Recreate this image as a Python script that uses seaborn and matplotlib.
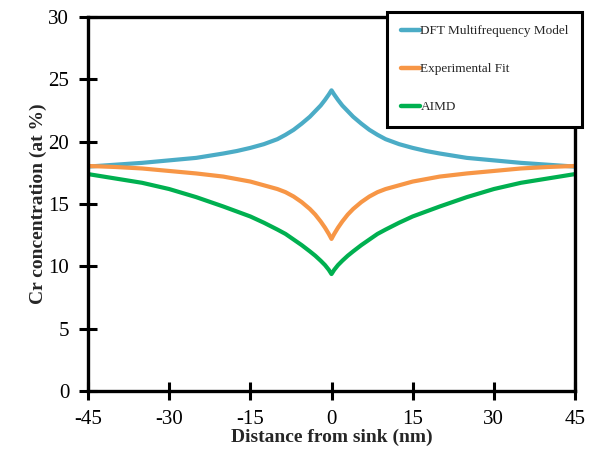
import numpy as np
import pandas as pd
import matplotlib
matplotlib.use("Agg")
import matplotlib.pyplot as plt
import seaborn as sns
from matplotlib.lines import Line2D

# Data (profile is symmetric about the sink)
distance = [-45, -40, -35, -30, -25, -20, -17.5, -15, -12.5, -10, -8.5, -7, -5.5, -4, -3, -2, -1.2, -0.5, 0,
            0.5, 1.2, 2, 3, 4, 5.5, 7, 8.5, 10, 12.5, 15, 17.5, 20, 25, 30, 35, 40, 45]
dft_model = [18.0, 18.15, 18.3, 18.5, 18.7, 19.05, 19.25, 19.5, 19.8, 20.2, 20.55, 20.95, 21.45, 22.0, 22.45,
             22.9, 23.35, 23.78, 24.12,
             23.78, 23.35, 22.9, 22.45, 22.0, 21.45, 20.95, 20.55, 20.2, 19.8, 19.5, 19.25, 19.05, 18.7,
             18.5, 18.3, 18.15, 18.0]
exp_fit = [18.05, 17.97, 17.85, 17.65, 17.45, 17.2, 17.0, 16.8, 16.5, 16.2, 15.95, 15.6, 15.15, 14.6, 14.15,
           13.6, 13.1, 12.6, 12.2,
           12.6, 13.1, 13.6, 14.15, 14.6, 15.15, 15.6, 15.95, 16.2, 16.5, 16.8, 17.0, 17.2, 17.45,
           17.65, 17.85, 17.97, 18.05]
aimd = [17.4, 17.05, 16.7, 16.2, 15.55, 14.8, 14.4, 14.0, 13.5, 12.95, 12.6, 12.15, 11.7, 11.2, 10.85,
        10.45, 10.1, 9.72, 9.38,
        9.72, 10.1, 10.45, 10.85, 11.2, 11.7, 12.15, 12.6, 12.95, 13.5, 14.0, 14.4, 14.8, 15.55,
        16.2, 16.7, 17.05, 17.4]

series_names = ["DFT Multifrequency Model", "Experimental Fit", "AIMD"]
series_colors = ["#4BACC6", "#F79646", "#00B050"]
x_ticks = [-45, -30, -15, 0, 15, 30, 45]
y_ticks = [0, 5, 10, 15, 20, 25, 30]

df = pd.concat([
    pd.DataFrame({"x": distance, "y": dft_model, "series": series_names[0]}),
    pd.DataFrame({"x": distance, "y": exp_fit, "series": series_names[1]}),
    pd.DataFrame({"x": distance, "y": aimd, "series": series_names[2]}),
], ignore_index=True)

sns.set_theme(style="white")
plt.rcParams["font.family"] = ["Liberation Serif", "DejaVu Serif"]

fig = plt.figure(figsize=(5.93, 4.49), dpi=100)
ax = fig.add_axes([88 / 593, 1 - 391 / 449, (575 - 88) / 593, (391 - 17) / 449])

sns.lineplot(data=df, x="x", y="y", hue="series", hue_order=series_names,
             palette=series_colors, linewidth=3, ax=ax, legend=False, sort=False,
             estimator=None)
for ln in ax.get_lines():
    ln.set_solid_joinstyle("round")
    ln.set_solid_capstyle("round")

ax.set_xlim(-45, 45)
ax.set_ylim(0, 30)
ax.set_xticks(x_ticks)
ax.set_yticks(y_ticks)
ax.set_xticklabels([str(v) for v in x_ticks])
ax.set_yticklabels([str(v) for v in y_ticks])
ax.tick_params(axis="both", which="major", bottom=True, left=True, direction="inout",
               length=13, width=2.2, labelsize=15, colors="black", pad=7)
for s in ax.spines.values():
    s.set_linewidth(2.4)
    s.set_color("black")
ax.set_xlabel("Distance from sink (nm)", fontsize=14, fontweight="bold", labelpad=0)
ax.set_ylabel("Cr concentration (at %)", fontsize=14, fontweight="bold", labelpad=1)

handles = [Line2D([0], [0], color=c, linewidth=3.2) for c in series_colors]
leg = ax.legend(handles, series_names, loc="upper right",
                bbox_to_anchor=(582 / 593, 1 - 12 / 449), bbox_transform=fig.transFigure,
                fontsize=9.5, frameon=True, fancybox=False, framealpha=1,
                edgecolor="black", handlelength=1.5, handletextpad=0.0,
                labelspacing=1.95, borderpad=1.0, borderaxespad=0)
leg.get_frame().set_linewidth(2.2)
leg.set_zorder(10)

fig.savefig("out.png", dpi=100)
